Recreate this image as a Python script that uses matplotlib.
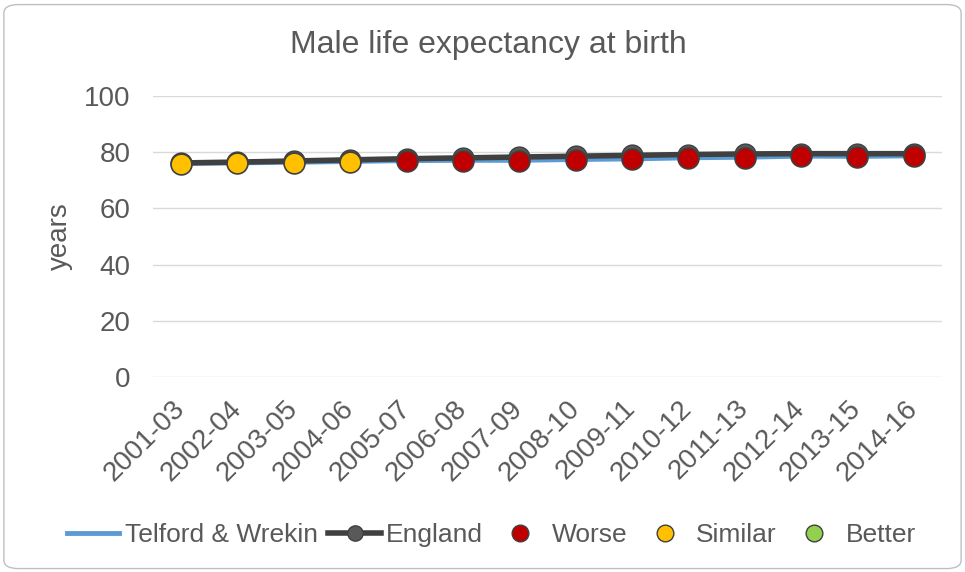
import numpy as np
import matplotlib
matplotlib.use("Agg")
import matplotlib.pyplot as plt
from matplotlib.lines import Line2D
from matplotlib.patches import FancyBboxPatch

plt.rcParams['font.family'] = ['Liberation Sans', 'DejaVu Sans']

periods = ['2001-03', '2002-04', '2003-05', '2004-06', '2005-07', '2006-08', '2007-09',
           '2008-10', '2009-11', '2010-12', '2011-13', '2012-14', '2013-15', '2014-16']
telford = [75.9, 76.1, 76.3, 76.6, 76.9, 77.0, 77.0, 77.3, 77.5, 77.9, 78.1, 78.5, 78.4, 78.6]
england = [76.2, 76.5, 76.9, 77.3, 77.7, 78.0, 78.3, 78.6, 78.9, 79.2, 79.4, 79.5, 79.5, 79.5]
status = ['Similar', 'Similar', 'Similar', 'Similar', 'Worse', 'Worse', 'Worse',
          'Worse', 'Worse', 'Worse', 'Worse', 'Worse', 'Worse', 'Worse']

colours = {'Worse': '#C00000', 'Similar': '#FFC000', 'Better': '#92D050'}
grey_txt = '#595959'

fig = plt.figure(figsize=(9.65, 5.72), dpi=100)
ax = fig.add_axes([0.1585, 0.341, 0.8175, 0.491])

# rounded chart border
fig.patches.append(FancyBboxPatch((0.004, 0.006), 0.992, 0.986, boxstyle="round,pad=0,rounding_size=0.015",
                                  transform=fig.transFigure, fc='white', ec='#bfbfbf', lw=1, zorder=-10))

x = np.arange(len(periods))
ax.plot(x, telford, color='#5B9BD5', lw=3, zorder=2)
ax.plot(x, england, color='#404040', lw=4, marker='o', ms=15, mfc='#595959', mec='#404040', zorder=3)
for xi, yi, s in zip(x, telford, status):
    ax.plot(xi, yi, 'o', ms=15, mfc=colours[s], mec='#404040', mew=1.2, zorder=4)

ax.set_ylim(0, 100)
ax.set_xlim(-0.5, len(periods) - 0.5)
ax.set_yticks(range(0, 101, 20))
ax.yaxis.grid(True, color='#d9d9d9', lw=1)
ax.set_axisbelow(True)
for sp in ax.spines.values():
    sp.set_visible(False)
ax.tick_params(axis='y', length=0, labelsize=20, colors=grey_txt, pad=16)
ax.tick_params(axis='x', length=0, labelsize=20, colors=grey_txt, pad=20)
ax.set_xticks(x)
ax.set_xticklabels(periods, rotation=45, ha='right', va='center', rotation_mode='anchor')
ax.set_ylabel('years', fontsize=20, color=grey_txt, labelpad=8)
fig.text(0.506, 0.921, 'Male life expectancy at birth', ha='center', va='center', fontsize=23, color=grey_txt)

handles = [Line2D([], [], color='#5B9BD5', lw=3.5),
           Line2D([], [], color='#404040', lw=4, marker='o', ms=11, mfc='#595959', mec='#404040'),
           Line2D([], [], ls='none', marker='o', ms=12, mfc=colours['Worse'], mec='#404040'),
           Line2D([], [], ls='none', marker='o', ms=12, mfc=colours['Similar'], mec='#404040'),
           Line2D([], [], ls='none', marker='o', ms=12, mfc=colours['Better'], mec='#404040')]
labels = ['Telford & Wrekin', 'England', 'Worse', 'Similar', 'Better']
leg = fig.legend(handles, labels, loc='center', bbox_to_anchor=(0.509, 0.065), ncol=5, frameon=False,
                 fontsize=19, handlelength=2.0, handletextpad=0.2, columnspacing=0.4)
for t in leg.get_texts():
    t.set_color(grey_txt)

fig.savefig('out.png', dpi=100)
